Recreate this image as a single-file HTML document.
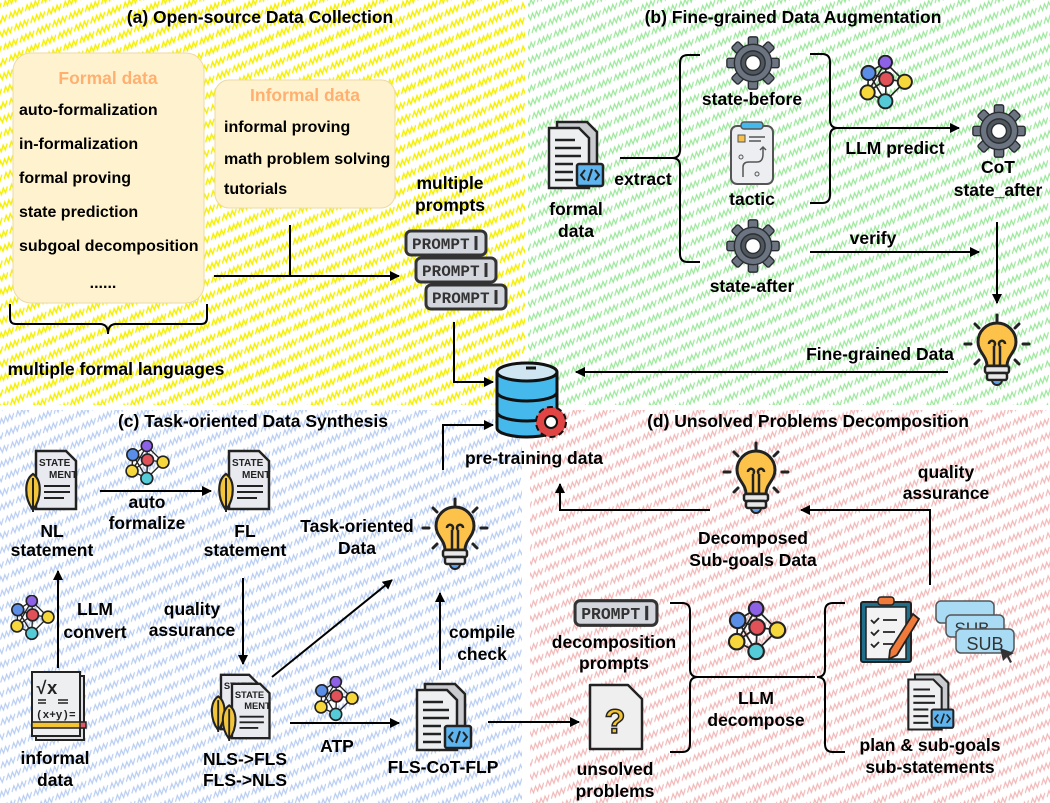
<!DOCTYPE html>
<html><head><meta charset="utf-8"><style>
html,body{margin:0;padding:0;background:#fff;}
svg{display:block;font-family:"Liberation Sans",Arial,sans-serif;font-weight:bold;}
</style></head><body>
<svg width="1050" height="803" viewBox="0 0 1050 803" xmlns="http://www.w3.org/2000/svg">
<defs>
<pattern id="py" width="18" height="13" patternUnits="userSpaceOnUse" patternTransform="rotate(-25)"><path d="M0,8 L4.5,3 L4.5,8 L9,3 L9,8 L13.5,3 L13.5,8 L18,3" fill="none" stroke="#f5f000" stroke-width="1.4"/></pattern>
<pattern id="pg" width="18" height="13" patternUnits="userSpaceOnUse" patternTransform="rotate(-25)"><path d="M0,8 L4.5,3 L4.5,8 L9,3 L9,8 L13.5,3 L13.5,8 L18,3" fill="none" stroke="#9be89b" stroke-width="1.2"/></pattern>
<pattern id="pb" width="18" height="13" patternUnits="userSpaceOnUse" patternTransform="rotate(-25)"><path d="M0,8 L4.5,3 L4.5,8 L9,3 L9,8 L13.5,3 L13.5,8 L18,3" fill="none" stroke="#b8cdf2" stroke-width="1.2"/></pattern>
<pattern id="pr" width="18" height="13" patternUnits="userSpaceOnUse" patternTransform="rotate(-25)"><path d="M0,8 L4.5,3 L4.5,8 L9,3 L9,8 L13.5,3 L13.5,8 L18,3" fill="none" stroke="#f2b8b8" stroke-width="1.2"/></pattern>
<marker id="ah" markerWidth="10" markerHeight="10" refX="9" refY="5" orient="auto" markerUnits="userSpaceOnUse"><path d="M0,0 L10,5 L0,10 Z" fill="#000"/></marker>

<symbol id="gear" viewBox="-30 -30 60 60">
<g fill="#6b7480" stroke="#2b2f33" stroke-width="1.5">
<g id="teeth"><rect x="-5" y="-28" width="10" height="12" rx="2"/><rect x="-5" y="16" width="10" height="12" rx="2"/><rect x="-28" y="-5" width="12" height="10" rx="2"/><rect x="16" y="-5" width="12" height="10" rx="2"/></g>
<use href="#teeth" transform="rotate(45)"/>
<circle r="20"/></g>
<circle r="13" fill="#4f565e" stroke="#2b2f33" stroke-width="1.5"/>
<circle r="8" fill="#fff" stroke="#2b2f33" stroke-width="1.5"/>
</symbol>

<symbol id="bulb" viewBox="-35 -40 70 80">
<g stroke="#222" stroke-width="3" stroke-linecap="round">
<line x1="0" y1="-37" x2="0" y2="-31"/><line x1="-22" y1="-28" x2="-18" y2="-24"/><line x1="22" y1="-28" x2="18" y2="-24"/>
<line x1="-32" y1="-8" x2="-26" y2="-8"/><line x1="32" y1="-8" x2="26" y2="-8"/>
<line x1="-22" y1="12" x2="-18" y2="8"/><line x1="22" y1="12" x2="18" y2="8"/></g>
<path d="M-10,14 C-10,4 -19,0 -19,-10 A19,19 0 1 1 19,-10 C19,0 10,4 10,14 Z" fill="#fcc24a" stroke="#222" stroke-width="3"/>
<path d="M-3,14 V-6 M3,14 V-6 M-3,-6 a3,3 0 1 0 -5,-2 M3,-6 a3,3 0 1 1 5,-2" fill="none" stroke="#222" stroke-width="2.5"/>
<rect x="-12" y="14" width="24" height="7" rx="2" fill="#e8e8e8" stroke="#222" stroke-width="2.5"/>
<rect x="-10" y="21" width="20" height="7" rx="2" fill="#e8e8e8" stroke="#222" stroke-width="2.5"/>
<path d="M-5,28 h10 a5,5 0 0 1 -10,0" fill="#5aa0e6" stroke="#222" stroke-width="2"/>
</symbol>

<symbol id="net" viewBox="0 0 70 65">
<g stroke="#222" stroke-width="1.8">
<line x1="13" y1="20" x2="32" y2="8"/><line x1="13" y1="20" x2="33" y2="27"/><line x1="13" y1="20" x2="32" y2="52"/><line x1="13" y1="20" x2="12" y2="42"/>
<line x1="32" y1="8" x2="54" y2="30"/><line x1="32" y1="8" x2="33" y2="27"/><line x1="33" y1="27" x2="54" y2="30"/><line x1="33" y1="27" x2="32" y2="52"/><line x1="12" y1="42" x2="33" y2="27"/><line x1="12" y1="42" x2="32" y2="52"/><line x1="54" y1="30" x2="32" y2="52"/><line x1="32" y1="8" x2="12" y2="42"/></g>
<g stroke="#222" stroke-width="2.2"><circle cx="13" cy="20" r="8" fill="#5b8ee6"/><circle cx="32" cy="8" r="7.5" fill="#8e62e6"/><circle cx="33" cy="27" r="8" fill="#e05258"/><circle cx="54" cy="30" r="8" fill="#f7d83c"/><circle cx="12" cy="42" r="8" fill="#f7d83c"/><circle cx="32" cy="52" r="8" fill="#56cbd8"/></g>
</symbol>

<symbol id="doc" viewBox="0 0 60 70">
<path d="M12,2 h30 l10,10 v48 h-40 Z" fill="#c9cbcf" stroke="#222" stroke-width="2.5"/>
<path d="M4,8 h30 l10,10 v50 h-40 Z" fill="#eeeff1" stroke="#222" stroke-width="2.5"/>
<g stroke="#222" stroke-width="2.5"><line x1="10" y1="20" x2="30" y2="20"/><line x1="10" y1="28" x2="36" y2="28"/><line x1="10" y1="36" x2="36" y2="36"/><line x1="10" y1="44" x2="28" y2="44"/><line x1="10" y1="52" x2="28" y2="52"/><line x1="10" y1="60" x2="28" y2="60"/></g>
<rect x="32" y="44" width="26" height="22" rx="2" fill="#5db4ef" stroke="#222" stroke-width="2.5"/>
<path d="M40,50 l-4,5 l4,5 M50,50 l4,5 l-4,5 M47,49 l-4,12" fill="none" stroke="#222" stroke-width="2"/>
</symbol>

<symbol id="prompt" viewBox="0 0 84 28">
<rect x="2" y="2" width="80" height="24" rx="5" fill="#d3d7dd" stroke="#333" stroke-width="3"/>
<text x="8" y="20" text-anchor="start" font-family="Liberation Mono,monospace" font-size="16" font-weight="bold" fill="#333">PROMPT</text>
<line x1="72" y1="7" x2="72" y2="21" stroke="#333" stroke-width="3"/>
</symbol>

<symbol id="stmt" viewBox="0 0 60 64">
<path d="M14,3 h30 l10,10 v48 h-40 Z" fill="#e8eaf0" stroke="#222" stroke-width="2.5"/>
<text x="17" y="18" text-anchor="start" font-size="10" font-weight="bold" fill="#222">STATE</text>
<text x="27" y="30" text-anchor="start" font-size="10" font-weight="bold" fill="#222">MENT</text>
<g stroke="#222" stroke-width="2"><line x1="22" y1="38" x2="48" y2="38"/><line x1="22" y1="44" x2="48" y2="44"/><line x1="22" y1="50" x2="42" y2="50"/></g>
<path d="M11,62 C2,50 2,32 11,26 C20,32 20,50 11,62 Z" fill="#f2c53a" stroke="#222" stroke-width="2.2"/>
<line x1="11" y1="30" x2="11" y2="64" stroke="#222" stroke-width="2"/>
</symbol>
</defs>

<rect x="0" y="0" width="525" height="405" fill="url(#py)"/>
<rect x="528" y="0" width="522" height="405" fill="url(#pg)"/>
<rect x="0" y="410" width="522" height="393" fill="url(#pb)"/>
<rect x="530" y="410" width="520" height="393" fill="url(#pr)"/>

<g font-size="17.5" text-anchor="middle" fill="#000">
<text x="260" y="23">(a) Open-source Data Collection</text>
<text x="793" y="23">(b) Fine-grained Data Augmentation</text>
<text x="253" y="427">(c) Task-oriented Data Synthesis</text>
<text x="808" y="427">(d) Unsolved Problems Decomposition</text>
</g>

<!-- (a) -->
<rect x="13" y="53" width="191" height="250" rx="18" fill="#fff3cf" stroke="#ecd9a8" stroke-width="1"/>
<rect x="215" y="80" width="180" height="128" rx="14" fill="#fff3cf" stroke="#ecd9a8" stroke-width="1"/>
<g font-size="16" fill="#000">
<text x="108" y="84" text-anchor="middle" fill="#ffb070" font-size="17.5">Formal data</text>
<text x="19" y="115">auto-formalization</text>
<text x="19" y="149">in-formalization</text>
<text x="19" y="183">formal proving</text>
<text x="19" y="217">state prediction</text>
<text x="19" y="251">subgoal decomposition</text>
<text x="103" y="288" text-anchor="middle">......</text>
<text x="305" y="101" text-anchor="middle" fill="#ffb070" font-size="17.5">Informal data</text>
<text x="224" y="132">informal proving</text>
<text x="224" y="164">math problem solving</text>
<text x="224" y="194">tutorials</text>
</g>
<g font-size="17.5" text-anchor="middle" fill="#000">
<path d="M10,304 V318 q0,6 6,6 H100 q8,0 8,10 q0,-10 8,-10 H201 q6,0 6,-6 V304" fill="none" stroke="#000" stroke-width="2"/>
<text x="116" y="375">multiple formal languages</text>
<line x1="290" y1="225" x2="290" y2="276" stroke="#000" stroke-width="2"/>
<line x1="214" y1="276" x2="399" y2="276" stroke="#000" stroke-width="2" marker-end="url(#ah)"/>
<text x="450" y="189">multiple</text>
<text x="450" y="211">prompts</text>
<use href="#prompt" x="404" y="229" width="84" height="28"/>
<use href="#prompt" x="414" y="256" width="84" height="28"/>
<use href="#prompt" x="424" y="283" width="84" height="28"/>
<polyline points="454,322 454,382 493,382" fill="none" stroke="#000" stroke-width="2" marker-end="url(#ah)"/>

<g stroke="#111" stroke-width="3">
<path d="M497,372 V428 a30,9 0 0 0 60,0 V372" fill="#45b8ec"/>
<ellipse cx="527" cy="372" rx="30" ry="9" fill="#cfe6f2"/>
<path d="M497,392 a30,9 0 0 0 60,0 M497,412 a30,9 0 0 0 60,0" fill="none"/>
<line x1="526" y1="368" x2="536" y2="368"/>
</g>
<g transform="translate(551,422)"><circle r="15" fill="#e04444" stroke="#111" stroke-width="2" stroke-dasharray="6 3.5"/><circle r="11" fill="#e04444"/><circle r="6" fill="#fff" stroke="#111" stroke-width="2"/></g>
<text x="534" y="464">pre-training data</text>
<polyline points="443,470 443,425 493,425" fill="none" stroke="#000" stroke-width="2" marker-end="url(#ah)"/>

<!-- (b) -->
<use href="#doc" x="545" y="120" width="60" height="70"/>
<text x="576" y="215">formal</text>
<text x="576" y="237">data</text>
<text x="643" y="185">extract</text>
<line x1="620" y1="158" x2="672" y2="158" stroke="#000" stroke-width="2"/>
<path d="M700,55 H688 q-8,0 -8,8 V150 q0,8 -8,8 q8,0 8,8 V254 q0,8 8,8 H700" fill="none" stroke="#000" stroke-width="2"/>
<use href="#gear" x="725" y="35" width="56" height="56"/>
<text x="752" y="105">state-before</text>
<g transform="translate(731,122)">
<rect x="0" y="4" width="42" height="58" rx="6" fill="#eceef2" stroke="#555" stroke-width="2"/>
<rect x="10" y="0" width="22" height="7" rx="3" fill="#45b8ec" stroke="#555" stroke-width="1.5"/>
<rect x="7" y="13" width="7" height="7" fill="#f7c04a" stroke="#555"/>
<path d="M18,15 h16 M18,19 h12" stroke="#555" stroke-width="1.5"/>
<path d="M12,55 v-10 q0,-5 6,-5 h8 q6,0 6,-8 v-6 M29,28 l3,-3 l3,3" fill="none" stroke="#555" stroke-width="1.5"/>
<circle cx="10" cy="35" r="2" fill="none" stroke="#555"/><circle cx="26" cy="52" r="2" fill="none" stroke="#555"/>
</g>
<text x="752" y="205">tactic</text>
<use href="#gear" x="725" y="218" width="56" height="56"/>
<text x="752" y="292">state-after</text>
<path d="M810,54 H822 q8,0 8,8 V120 q0,8 8,8 q-8,0 -8,8 V195 q0,8 -8,8 H810" fill="none" stroke="#000" stroke-width="2"/>
<line x1="838" y1="128" x2="959" y2="128" stroke="#000" stroke-width="2" marker-end="url(#ah)"/>
<use href="#net" x="857" y="55" width="62" height="58"/>
<text x="895" y="154">LLM predict</text>
<use href="#gear" x="971" y="103" width="56" height="56"/>
<text x="998" y="173">CoT</text>
<text x="998" y="196">state_after</text>
<line x1="810" y1="252" x2="979" y2="252" stroke="#000" stroke-width="2" marker-end="url(#ah)"/>
<text x="873" y="244">verify</text>
<line x1="997" y1="222" x2="997" y2="303" stroke="#000" stroke-width="2" marker-end="url(#ah)"/>
<use href="#bulb" x="962" y="312" width="70" height="80"/>
<text x="880" y="360">Fine-grained Data</text>
<line x1="948" y1="372" x2="576" y2="372" stroke="#000" stroke-width="2" marker-end="url(#ah)"/>

<!-- (c) -->
<use href="#stmt" x="22" y="448" width="60" height="64"/>
<text x="52" y="537">NL</text>
<text x="52" y="556">statement</text>
<line x1="100" y1="491" x2="211" y2="491" stroke="#000" stroke-width="2" marker-end="url(#ah)"/>
<use href="#net" x="123" y="440" width="52" height="48"/>
<text x="147" y="508">auto</text>
<text x="147" y="529">formalize</text>
<use href="#stmt" x="215" y="448" width="60" height="64"/>
<text x="245" y="537">FL</text>
<text x="245" y="556">statement</text>
<line x1="58" y1="668" x2="58" y2="571" stroke="#000" stroke-width="2" marker-end="url(#ah)"/>
<use href="#net" x="8" y="595" width="52" height="48"/>
<text x="95" y="615">LLM</text>
<text x="95" y="638">convert</text>
<g transform="translate(30,672)">
<rect x="6" y="4" width="48" height="64" fill="#dfe1e5" stroke="#222" stroke-width="2"/>
<rect x="2" y="0" width="48" height="64" fill="#eeeff1" stroke="#222" stroke-width="2"/>
<text x="6" y="22" font-size="18" font-family="Liberation Mono,monospace" fill="#222" text-anchor="start">√x</text>
<path d="M8,28 h8 M8,31 h8 M28,28 h10 M28,31 h10" stroke="#222" stroke-width="1.5"/>
<text x="6" y="46" font-size="11" font-family="Liberation Mono,monospace" fill="#222" text-anchor="start">(x+y)=</text>
<rect x="2" y="50" width="50" height="6" fill="#f5c431" stroke="#222" stroke-width="1.5"/>
<rect x="50" y="50" width="6" height="6" fill="#e05a6a" stroke="#222" stroke-width="1.5"/>
</g>
<text x="55" y="764">informal</text>
<text x="55" y="786">data</text>
<line x1="243" y1="578" x2="243" y2="664" stroke="#000" stroke-width="2" marker-end="url(#ah)"/>
<text x="192" y="615">quality</text>
<text x="192" y="636">assurance</text>
<use href="#stmt" x="207" y="672" width="58" height="60"/>
<use href="#stmt" x="218" y="681" width="58" height="60"/>
<text x="245" y="765">NLS-&gt;FLS</text>
<text x="245" y="786">FLS-&gt;NLS</text>
<line x1="272" y1="677" x2="392" y2="580" stroke="#000" stroke-width="2" marker-end="url(#ah)"/>
<text x="357" y="532">Task-oriented</text>
<text x="357" y="554">Data</text>
<use href="#bulb" x="420" y="496" width="70" height="80"/>
<line x1="290" y1="723" x2="399" y2="723" stroke="#000" stroke-width="2" marker-end="url(#ah)"/>
<use href="#net" x="312" y="676" width="52" height="48"/>
<text x="337" y="752">ATP</text>
<use href="#doc" x="413" y="682" width="60" height="70"/>
<text x="443" y="773">FLS-CoT-FLP</text>
<line x1="440" y1="670" x2="440" y2="593" stroke="#000" stroke-width="2" marker-end="url(#ah)"/>
<text x="482" y="638">compile</text>
<text x="482" y="660">check</text>
<line x1="488" y1="722" x2="579" y2="722" stroke="#000" stroke-width="2" marker-end="url(#ah)"/>

<!-- (d) -->
<use href="#bulb" x="721" y="440" width="70" height="80"/>
<text x="753" y="544">Decomposed</text>
<text x="753" y="566">Sub-goals Data</text>
<polyline points="710,510 560,510 560,484" fill="none" stroke="#000" stroke-width="2" marker-end="url(#ah)"/>
<polyline points="930,585 930,510 801,510" fill="none" stroke="#000" stroke-width="2" marker-end="url(#ah)"/>
<text x="946" y="478">quality</text>
<text x="946" y="499">assurance</text>
<use href="#prompt" x="573" y="598" width="86" height="30"/>
<text x="614" y="648">decomposition</text>
<text x="614" y="669">prompts</text>
<g transform="translate(588,683)">
<path d="M2,2 h38 l14,14 v50 h-52 Z" fill="#efefef" stroke="#222" stroke-width="2.5" stroke-linejoin="round"/>
<text x="27" y="50" font-size="34" fill="#f5c431" stroke="#222" stroke-width="1.5">?</text>
</g>
<text x="615" y="775">unsolved</text>
<text x="615" y="797">problems</text>
<path d="M670,603 H682 q8,0 8,8 V669 q0,8 8,8 q-8,0 -8,8 V744 q0,8 -8,8 H670" fill="none" stroke="#000" stroke-width="2"/>
<line x1="698" y1="677" x2="815" y2="677" stroke="#000" stroke-width="2"/>
<path d="M845,603 H833 q-8,0 -8,8 V669 q0,8 -8,8 q8,0 8,8 V744 q0,8 8,8 H845" fill="none" stroke="#000" stroke-width="2"/>
<use href="#net" x="725" y="601" width="68" height="63"/>
<text x="756" y="704">LLM</text>
<text x="756" y="726">decompose</text>
</g>
<g transform="translate(861,596)">
<rect x="0" y="6" width="50" height="60" rx="2" fill="#1f6f8b" stroke="#222" stroke-width="2"/>
<rect x="5" y="11" width="40" height="52" fill="#f3f3f3" stroke="#222" stroke-width="1.5"/>
<rect x="17" y="1" width="16" height="8" rx="3" fill="#f07a3a" stroke="#222" stroke-width="1.5"/>
<path d="M10,24 l3,3 l5,-5 M10,36 l3,3 l5,-5 M10,48 l3,3 l5,-5 M22,24 h14 M22,36 h12 M22,48 h10" fill="none" stroke="#222" stroke-width="1.8"/>
<path d="M52,18 l6,5 l-22,36 l-8,4 l1,-9 Z" fill="#f07a3a" stroke="#222" stroke-width="1.8"/>
</g>
<g font-weight="normal" fill="#333">
<rect x="936" y="601" width="58" height="22" rx="5" fill="#a9dbf5" stroke="#555" stroke-width="1.5"/>
<rect x="946" y="615" width="58" height="22" rx="5" fill="#a9dbf5" stroke="#555" stroke-width="1.5"/>
<text x="972" y="634" font-size="17" text-anchor="middle">SUB</text>
<rect x="956" y="629" width="58" height="24" rx="5" fill="#a9dbf5" stroke="#555" stroke-width="1.5"/>
<text x="985" y="650" font-size="18" text-anchor="middle">SUB</text>
<path d="M1000,648 l14,5 l-5,3 l3,6 l-2,1 l-3,-6 l-4,4 Z" fill="#333"/>
</g>
<use href="#doc" x="905" y="672" width="50" height="60"/>
<g font-size="17.5" text-anchor="middle">
<text x="930" y="751">plan &amp; sub-goals</text>
<text x="930" y="773">sub-statements</text>
</g>
</svg>
</body></html>
